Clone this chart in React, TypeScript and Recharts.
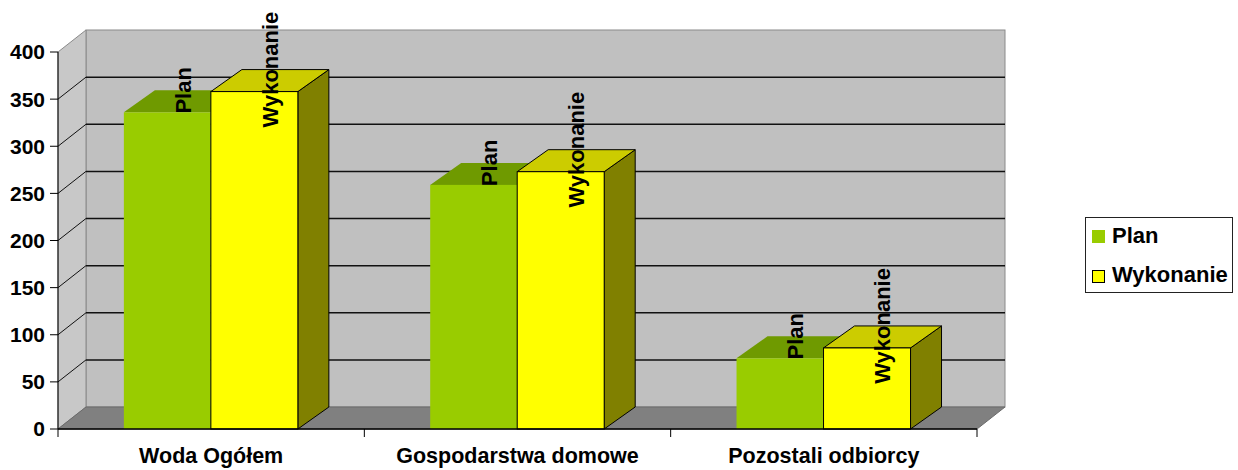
import React from "react";
import {
  BarChart,
  Bar,
  XAxis,
  YAxis,
  CartesianGrid,
  ReferenceArea,
  Legend,
  LabelList,
} from "recharts";

// dane
const categories = ["Woda Ogółem", "Gospodarstwa domowe", "Pozostali odbiorcy"];
const planValues = [336, 259, 75];
const wykonanieValues = [358, 273, 86];
const yTicks = [0, 50, 100, 150, 200, 250, 300, 350, 400];

const seriesNames = { plan: "Plan", wykonanie: "Wykonanie" };

const data = categories.map((name, i) => ({
  name,
  plan: planValues[i],
  wykonanie: wykonanieValues[i],
}));

const FONT = '"Liberation Sans", Arial, sans-serif';

// przesunięcie głębi (efekt 3D)
const WALL_DX = 28;
const WALL_DY = -22;
const BAR_DX = 31;
const BAR_DY = -22;

const planColors = { front: "#99cc00", top: "#6f9a00", side: "#5f8200", stroke: "none" };
const wykColors = { front: "#ffff00", top: "#cccc00", side: "#808000", stroke: "#000" };

type Colors = typeof planColors;

const make3DBar = (c: Colors) => (props: any) => {
  const { x, y, width, height } = props;
  if (!width || !height) return <g />;
  const top = `${x},${y} ${x + BAR_DX},${y + BAR_DY} ${x + width + BAR_DX},${y + BAR_DY} ${x + width},${y}`;
  const side = `${x + width},${y} ${x + width + BAR_DX},${y + BAR_DY} ${x + width + BAR_DX},${y + height + BAR_DY} ${x + width},${y + height}`;
  return (
    <g>
      <polygon points={side} fill={c.side} stroke={c.stroke} />
      <polygon points={top} fill={c.top} stroke={c.stroke} />
      <rect x={x} y={y} width={width} height={height} fill={c.front} stroke={c.stroke} />
    </g>
  );
};

// ściany i podłoga
const WallShape = (props: any) => {
  const { x, y, width, height } = props;
  const b = y + height;
  return (
    <g>
      <rect
        x={x + WALL_DX}
        y={y + WALL_DY}
        width={width}
        height={height}
        fill="#c0c0c0"
        stroke="#8a8a8a"
      />
      <polygon
        points={`${x},${b} ${x},${y} ${x + WALL_DX},${y + WALL_DY} ${x + WALL_DX},${b + WALL_DY}`}
        fill="#c8c8c8"
        stroke="#8a8a8a"
      />
      <polygon
        points={`${x},${b} ${x + width},${b} ${x + width + WALL_DX},${b + WALL_DY} ${x + WALL_DX},${b + WALL_DY}`}
        fill="#808080"
        stroke="#6a6a6a"
      />
    </g>
  );
};

const renderGridLine = (p: any) => {
  const { x1, x2, y1, index } = p;
  const last = yTicks.length - 1;
  if (index === 0 || index === last) return <g key={`gl-${index}`} />;
  return (
    <g key={`gl-${index}`}>
      <line x1={x1} y1={y1} x2={x1 + WALL_DX} y2={y1 + WALL_DY} stroke="#111" />
      <line
        x1={x1 + WALL_DX}
        y1={y1 + WALL_DY}
        x2={x2 + WALL_DX}
        y2={y1 + WALL_DY}
        stroke="#111"
        strokeWidth={1.5}
      />
    </g>
  );
};

const XTick = (props: any) => {
  const { x, y, payload, index } = props;
  const half = payload && payload.offset ? payload.offset : 153;
  return (
    <g>
      <line x1={x - half} y1={y} x2={x - half} y2={y + 8} stroke="#000" />
      {index === categories.length - 1 && (
        <line x1={x + half} y1={y} x2={x + half} y2={y + 8} stroke="#000" />
      )}
      <text
        x={x}
        y={y + 19}
        dy="0.71em"
        textAnchor="middle"
        fill="#000"
        fontFamily={FONT}
        fontWeight="bold"
        fontSize={21.5}
      >
        {payload.value}
      </text>
    </g>
  );
};

const makeLabel = (name: string) => (props: any) => {
  const vb = props.viewBox || props;
  const x = Number(vb.x ?? props.x);
  const y = Number(vb.y ?? props.y);
  const w = Number(vb.width ?? props.width);
  const cx = x + w / 2 + BAR_DX / 2;
  const cy = y + BAR_DY;
  return (
    <text
      transform={`translate(${cx},${cy}) rotate(-90)`}
      textAnchor="middle"
      dy="0.35em"
      fill="#000"
      fontFamily={FONT}
      fontWeight="bold"
      fontSize={22}
    >
      {name}
    </text>
  );
};

const LegendBox = () => (
  <div
    style={{
      position: "relative",
      boxSizing: "border-box",
      width: 148,
      height: 76,
      border: "1px solid #222",
      background: "#fff",
      fontFamily: FONT,
      fontWeight: "bold",
      fontSize: 22,
      color: "#000",
    }}
  >
    <div style={{ position: "absolute", left: 6, top: 12, width: 13, height: 13, background: planColors.front }} />
    <div style={{ position: "absolute", left: 26, top: 6, lineHeight: "24px" }}>{seriesNames.plan}</div>
    <div
      style={{
        position: "absolute",
        left: 6,
        top: 52,
        width: 13,
        height: 13,
        boxSizing: "border-box",
        background: wykColors.front,
        border: "1px solid #000",
      }}
    />
    <div style={{ position: "absolute", left: 26, top: 45, lineHeight: "24px" }}>{seriesNames.wykonanie}</div>
  </div>
);

export default function App() {
  return (
    <div style={{ position: "absolute", left: 0, top: 0, width: 1238, height: 470, background: "#fff" }}>
      <BarChart
        width={1238}
        height={470}
        data={data}
        margin={{ top: 52, right: 261, bottom: 0, left: 0 }}
        barCategoryGap="21.5%"
        barGap={0}
      >
        <ReferenceArea
          y1={0}
          y2={400}
          ifOverflow="visible"
          shape={WallShape}
          zIndex={-200}
        />
        <CartesianGrid vertical={false} horizontal={renderGridLine} />
        <XAxis
          dataKey="name"
          height={41}
          tickSize={0}
          tickMargin={0}
          tickLine={false}
          axisLine={{ stroke: "#000", strokeWidth: 1.5 }}
          tick={<XTick />}
          interval={0}
        />
        <YAxis
          domain={[0, 400]}
          ticks={yTicks}
          interval={0}
          width={58}
          tickSize={8}
          tickMargin={5}
          axisLine={{ stroke: "#000" }}
          tickLine={{ stroke: "#000" }}
          tick={{ fill: "#000", fontSize: 21, fontWeight: "bold", fontFamily: FONT }}
        />
        <Legend
          layout="vertical"
          align="center"
          verticalAlign="middle"
          wrapperStyle={{ left: 1085, top: 217, width: 148, height: 76 }}
          content={<LegendBox />}
        />
        <Bar
          dataKey="plan"
          name={seriesNames.plan}
          fill={planColors.front}
          shape={make3DBar(planColors)}
          isAnimationActive={false}
        >
          <LabelList dataKey="plan" content={makeLabel(seriesNames.plan)} />
        </Bar>
        <Bar
          dataKey="wykonanie"
          name={seriesNames.wykonanie}
          fill={wykColors.front}
          shape={make3DBar(wykColors)}
          isAnimationActive={false}
        >
          <LabelList dataKey="wykonanie" content={makeLabel(seriesNames.wykonanie)} />
        </Bar>
      </BarChart>
    </div>
  );
}
